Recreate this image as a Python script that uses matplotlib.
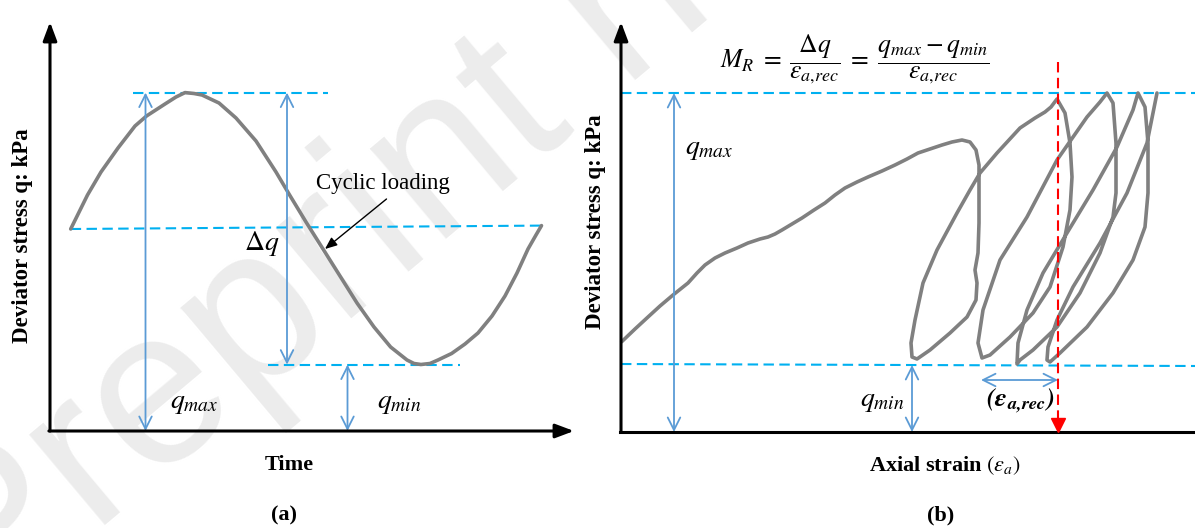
import matplotlib
matplotlib.use("Agg")
import matplotlib.pyplot as plt

plt.rcParams["mathtext.fontset"] = "stix"
plt.rcParams["font.family"] = ["Liberation Serif", "DejaVu Serif"]

# ---- panel (a): one load cycle (pixel units, y down)
cycle_x = [70.7, 87.5, 101, 118, 135, 146.5, 165, 176, 185, 194, 202, 219, 236,
           256, 276, 289.6, 306, 323, 340, 357, 374, 390.6, 407, 414, 421, 430,
           438, 451.6, 465, 478, 492, 505, 517, 528, 536, 541.5]
cycle_y = [229, 195, 172, 148, 126, 116, 104, 97, 92.6, 93.5, 95, 103, 118,
           141, 172, 195, 222, 249, 276, 303, 327, 347, 360, 363.5, 364.5, 363.5,
           360, 353.5, 344, 333, 316, 296, 273, 249, 235, 225.6]

a_qmax_y, a_qmid_y, a_qmin_y, a_base_y = 92.6, 229, 364.6, 431

# ---- panel (b): stress-strain path with unload/reload loops
strain_x = [621.7, 635, 648, 660, 673, 688, 697, 705, 715, 725, 737, 748, 760,
            768, 775, 782, 792, 802, 814, 825, 835, 845, 857, 868, 882, 895,
            907, 918, 930, 942, 952, 962, 970, 976, 979, 979, 979, 978, 975,
            977, 976, 967, 950, 930, 917, 912, 911, 915, 923, 937, 957, 970,
            980, 997, 1020, 1035, 1045, 1051, 1057,
            1065, 1070, 1072, 1070, 1063, 1050, 1033, 1010, 990, 982,
            978, 983, 1000, 1027, 1057, 1087, 1100, 1107,
            1113, 1116, 1116, 1113, 1100, 1080, 1057, 1033, 1020, 1017,
            1018, 1027, 1043, 1067, 1093, 1117, 1133, 1138,
            1145, 1148, 1148, 1145, 1133, 1113, 1087, 1060, 1050, 1047,
            1048, 1057, 1073, 1100, 1127, 1147, 1157]
strain_y = [341.7, 329, 317, 306, 295, 283, 273, 265, 258, 253, 248, 243, 239,
            237, 234, 230, 224, 218, 210, 203, 195, 188, 182, 177, 171, 165,
            159, 153, 149, 145, 142, 140, 142, 150, 165, 190, 223, 253, 270,
            283, 300, 317, 333, 350, 359, 357, 343, 320, 283, 250, 213, 190,
            173, 153, 128, 118, 112, 107, 99,
            113, 143, 177, 210, 247, 287, 313, 337, 355, 358,
            343, 310, 260, 217, 160, 117, 102, 93,
            103, 143, 193, 217, 253, 293, 327, 350, 360, 364,
            343, 310, 273, 233, 190, 147, 110, 93,
            107, 143, 193, 227, 260, 293, 327, 353, 362, 360,
            347, 320, 287, 243, 193, 143, 93]

b_qmax_y, b_qmin_left, b_qmin_right, b_base_y = 93, 364, 366, 432
rec_left, rec_right = 981, 1058

GRAY = "#808080"
CYAN = "#00B0F0"
BLUE = "#5B9BD5"

fig = plt.figure(figsize=(11.95, 5.28), dpi=100)
ax = fig.add_axes([0, 0, 1, 1])
ax.set_xlim(0, 1195)
ax.set_ylim(528, 0)
ax.axis("off")

# watermark
ax.text(-20, 630, "Preprint not peer reviewed", rotation=40, rotation_mode="anchor",
        ha="left", va="baseline", fontsize=160, color="#ececec",
        family="Liberation Sans", zorder=0, clip_on=True)


def axis_arrow(x0, y0, x1, y1):
    ax.annotate("", xy=(x1, y1), xytext=(x0, y0),
                arrowprops=dict(arrowstyle="-|>,head_length=0.8,head_width=0.3",
                                color="black", lw=2.2, mutation_scale=14,
                                shrinkA=0, shrinkB=0), zorder=4)


def span_arrow(x0, y0, x1, y1):
    ax.annotate("", xy=(x1, y1), xytext=(x0, y0),
                arrowprops=dict(arrowstyle="<->,head_length=0.9,head_width=0.45",
                                color=BLUE, lw=1.3, mutation_scale=10,
                                shrinkA=0, shrinkB=0), zorder=3)


dash = dict(color=CYAN, lw=1.5, dashes=(5, 2.6), zorder=2)

# ---------------- panel (a)
axis_arrow(50, a_base_y, 50, 22)
axis_arrow(48.9, a_base_y, 574, a_base_y)
ax.plot([133, 328], [a_qmax_y, a_qmax_y], **dash)
ax.plot([70.7, 541.5], [a_qmid_y, 225.6], **dash)
ax.plot([268, 460], [a_qmin_y, a_qmin_y], **dash)
ax.plot(cycle_x, cycle_y, color=GRAY, lw=2.6, solid_joinstyle="round",
        solid_capstyle="round", zorder=3)
span_arrow(145.5, a_qmax_y, 145.5, a_base_y)
span_arrow(287, a_qmax_y, 287, a_qmin_y)
span_arrow(347.5, a_qmin_y, 347.5, a_base_y)

ax.text(194, 403, r"$q_{max}$", fontsize=20, ha="center", va="center")
ax.text(399, 403, r"$q_{min}$", fontsize=20, ha="center", va="center")
ax.text(262, 243, r"$\Delta q$", fontsize=20, ha="center", va="center")
ax.text(383, 183, "Cyclic loading", fontsize=16.5, ha="center", va="center")
ax.annotate("", xy=(325, 249), xytext=(386.5, 199),
            arrowprops=dict(arrowstyle="-|>,head_length=0.6,head_width=0.25",
                            color="black", lw=1.0, mutation_scale=12,
                            shrinkA=0, shrinkB=0))
ax.text(23, 236, "Deviator stress q: kPa", rotation=90, fontsize=16.5,
        fontweight="bold", ha="center", va="center")
ax.text(289, 465, "Time", fontsize=16, fontweight="bold", ha="center", va="center")
ax.text(284, 515, "(a)", fontsize=16, fontweight="bold", ha="center", va="center")

# ---------------- panel (b)
axis_arrow(621, b_base_y, 621, 22)
ax.plot([619.9, 1195], [b_base_y, b_base_y], color="black", lw=2.2, zorder=4)
ax.plot([621, 1195], [b_qmax_y, b_qmax_y], **dash)
ax.plot([621, 1195], [b_qmin_left, b_qmin_right], **dash)
ax.plot(strain_x, strain_y, color=GRAY, lw=2.6, solid_joinstyle="round",
        solid_capstyle="round", zorder=3)
ax.plot([rec_right, rec_right], [62, 422], color="red", lw=1.5,
        dashes=(5, 2.6), zorder=5)
ax.plot([rec_right], [425], marker="v", color="red", markersize=10, zorder=5)
span_arrow(674, b_qmax_y, 674, b_base_y)
span_arrow(912, 365, 912, b_base_y)
span_arrow(rec_left, 380, rec_right, 380)

ax.text(855, 59,
        r"$M_R\;=\;\dfrac{\Delta q}{\varepsilon_{a{,}rec}}\;=\;\dfrac{q_{max}-q_{min}}{\varepsilon_{a{,}rec}}$",
        fontsize=18.5, ha="center", va="center")
ax.text(709, 150, r"$q_{max}$", fontsize=20, ha="center", va="center")
ax.text(882, 402, r"$q_{min}$", fontsize=20, ha="center", va="center")
ax.text(1020, 401, r"$\mathbfit{(\varepsilon_{a{,}rec})}$", fontsize=19,
        ha="center", va="center")
ax.text(596, 222, "Deviator stress q: kPa", rotation=90, fontsize=16.5,
        fontweight="bold", ha="center", va="center")
ax.text(945, 466, r"Axial strain $(\varepsilon_a)$", fontsize=16,
        fontweight="bold", ha="center", va="center")
ax.text(941, 515, "(b)", fontsize=16, fontweight="bold", ha="center", va="center")

fig.savefig("out.png", dpi=100)
